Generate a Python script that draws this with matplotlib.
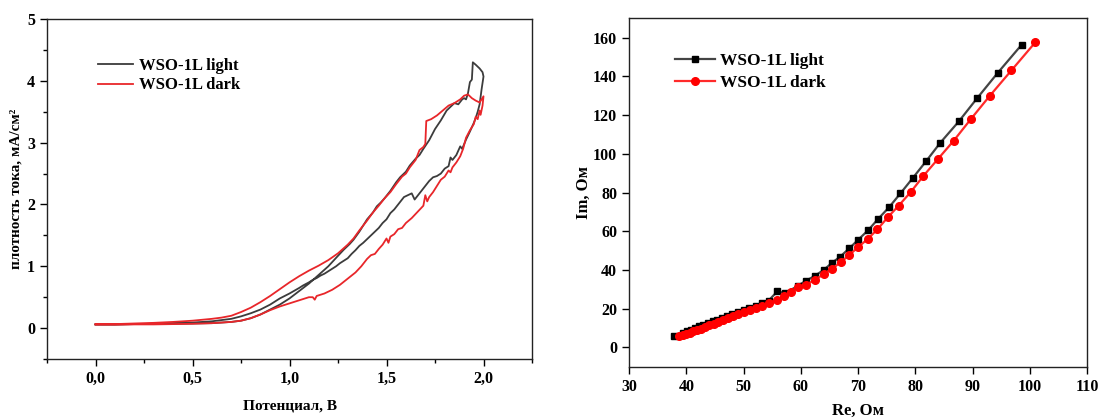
import matplotlib
matplotlib.use("Agg")
import matplotlib.pyplot as plt
from matplotlib.ticker import MultipleLocator, FuncFormatter

plt.rcParams['font.family'] = ['Liberation Serif', 'DejaVu Serif']
plt.rcParams['font.weight'] = 'bold'

# CV loops: potential (V) and current density (mA/cm2), forward then reverse sweep
light_v = [0.00, 0.10, 0.20, 0.30, 0.40, 0.50, 0.60, 0.65, 0.70, 0.75, 0.80, 0.85,
           0.90, 0.95, 1.00, 1.05, 1.10, 1.15, 1.20, 1.25, 1.28, 1.31, 1.33, 1.36,
           1.40, 1.43, 1.45, 1.47, 1.49, 1.52, 1.55, 1.57, 1.60, 1.62, 1.65, 1.67,
           1.69, 1.72, 1.75, 1.78, 1.81, 1.83, 1.85, 1.87, 1.89, 1.90, 1.91, 1.92,
           1.93, 1.94, 1.945, 1.96, 1.98, 1.995, 2.00,
           1.99, 1.98, 1.97, 1.96, 1.95, 1.93, 1.91, 1.89, 1.88, 1.86, 1.84, 1.83,
           1.82, 1.80, 1.78, 1.76, 1.74, 1.72, 1.70, 1.68, 1.66, 1.645, 1.63, 1.61,
           1.59, 1.575, 1.56, 1.54, 1.52, 1.50, 1.48, 1.46, 1.44, 1.42, 1.40, 1.38,
           1.36, 1.34, 1.32, 1.30, 1.28, 1.26, 1.24, 1.22, 1.20, 1.18, 1.16, 1.14,
           1.12, 1.10, 1.07, 1.05, 1.00, 0.95, 0.90, 0.85, 0.80, 0.75, 0.70, 0.60,
           0.50, 0.40, 0.30, 0.20, 0.10, 0.00]
light_j = [0.06, 0.06, 0.065, 0.07, 0.07, 0.075, 0.08, 0.09, 0.10, 0.12, 0.16, 0.22,
           0.30, 0.38, 0.48, 0.60, 0.72, 0.86, 1.00, 1.17, 1.27, 1.36, 1.43, 1.56,
           1.76, 1.87, 1.97, 2.03, 2.10, 2.22, 2.36, 2.44, 2.53, 2.63, 2.74, 2.80,
           2.90, 3.04, 3.22, 3.36, 3.52, 3.58, 3.64, 3.62, 3.70, 3.72, 3.70, 3.80,
           3.98, 4.02, 4.30, 4.26, 4.20, 4.14, 4.07,
           3.86, 3.62, 3.50, 3.40, 3.32, 3.18, 3.05, 2.90, 2.94, 2.80, 2.72, 2.76,
           2.62, 2.58, 2.50, 2.46, 2.44, 2.38, 2.30, 2.22, 2.14, 2.08, 2.18, 2.15,
           2.12, 2.06, 2.00, 1.92, 1.86, 1.76, 1.70, 1.62, 1.56, 1.50, 1.44, 1.38,
           1.33, 1.26, 1.20, 1.13, 1.09, 1.05, 1.00, 0.96, 0.92, 0.88, 0.85, 0.81,
           0.78, 0.74, 0.69, 0.65, 0.56, 0.48, 0.38, 0.30, 0.24, 0.19, 0.15, 0.11,
           0.09, 0.08, 0.07, 0.065, 0.06, 0.06]

dark_v = [0.00, 0.10, 0.20, 0.30, 0.40, 0.50, 0.55, 0.60, 0.65, 0.70, 0.75, 0.80,
          0.85, 0.90, 0.95, 1.00, 1.05, 1.10, 1.15, 1.20, 1.25, 1.30, 1.33, 1.36,
          1.40, 1.43, 1.46, 1.49, 1.52, 1.55, 1.58, 1.60, 1.62, 1.65, 1.67, 1.69,
          1.70, 1.705, 1.73, 1.76, 1.79, 1.82, 1.85, 1.88, 1.90, 1.92, 1.94, 1.96,
          1.98, 2.00,
          1.995, 1.985, 1.98, 1.97, 1.96, 1.95, 1.93, 1.91, 1.895, 1.88, 1.86, 1.84,
          1.83, 1.82, 1.80, 1.78, 1.76, 1.74, 1.72, 1.71, 1.70, 1.69, 1.66, 1.63,
          1.60, 1.58, 1.56, 1.54, 1.52, 1.51, 1.50, 1.48, 1.46, 1.44, 1.42, 1.40,
          1.37, 1.34, 1.30, 1.26, 1.22, 1.18, 1.14, 1.13, 1.12, 1.10, 1.05, 1.00,
          0.95, 0.90, 0.85, 0.80, 0.75, 0.70, 0.60, 0.50, 0.40, 0.30, 0.20, 0.10,
          0.00]
dark_j = [0.06, 0.065, 0.075, 0.085, 0.10, 0.12, 0.135, 0.15, 0.17, 0.20, 0.26, 0.33,
          0.42, 0.52, 0.63, 0.74, 0.84, 0.93, 1.01, 1.10, 1.21, 1.35, 1.45, 1.58,
          1.74, 1.87, 1.98, 2.10, 2.20, 2.33, 2.45, 2.50, 2.60, 2.72, 2.88, 2.93,
          2.98, 3.35, 3.38, 3.44, 3.52, 3.60, 3.64, 3.70, 3.76, 3.78, 3.72, 3.68,
          3.65, 3.75,
          3.60, 3.45, 3.52, 3.38, 3.42, 3.30, 3.20, 3.08, 2.90, 2.78, 2.68, 2.60,
          2.52, 2.55, 2.45, 2.40, 2.30, 2.20, 2.12, 2.05, 2.15, 1.98, 1.88, 1.78,
          1.70, 1.62, 1.60, 1.52, 1.48, 1.38, 1.45, 1.35, 1.28, 1.20, 1.18, 1.12,
          1.00, 0.90, 0.80, 0.70, 0.62, 0.56, 0.52, 0.46, 0.50, 0.50, 0.45, 0.40,
          0.35, 0.29, 0.22, 0.16, 0.12, 0.10, 0.08, 0.07, 0.065, 0.06, 0.06, 0.055,
          0.06]

# impedance spectra: Re and Im (Ohm)
light_re = [37.8, 39.5, 40.2, 40.9, 41.6, 42.3, 43.0, 43.8, 44.6, 45.4, 46.2, 47.1,
            48.0, 49.0, 50.0, 51.0, 52.1, 53.2, 54.4, 55.9, 57.3, 59.5, 60.9, 62.5,
            64.0, 65.4, 66.9, 68.5, 70.0, 71.8, 73.5, 75.4, 77.4, 79.6, 81.9, 84.4,
            87.6, 90.8, 94.4, 98.6]
light_im = [6.0, 7.5, 8.4, 9.2, 10.0, 10.8, 11.6, 12.5, 13.4, 14.3, 15.2, 16.2,
            17.1, 18.2, 19.3, 20.4, 21.6, 22.8, 24.2, 28.9, 28.0, 31.8, 34.4, 37.0,
            40.0, 43.5, 46.9, 51.2, 55.5, 60.6, 66.3, 72.3, 79.5, 87.6, 96.2, 105.8,
            116.7, 128.7, 141.8, 156.4]
dark_re = [38.8, 39.4, 40.0, 40.6, 41.2, 41.9, 42.6, 43.3, 44.0, 44.8, 45.6, 46.4,
           47.3, 48.2, 49.1, 50.1, 51.1, 52.2, 53.3, 54.5, 55.9, 57.1, 58.3, 59.5,
           61.0, 62.5, 64.0, 65.5, 67.0, 68.5, 70.0, 71.7, 73.4, 75.2, 77.1, 79.2,
           81.4, 83.9, 86.7, 89.7, 93.0, 96.8, 101.0]
dark_im = [5.9, 6.3, 6.9, 7.5, 8.2, 8.9, 9.7, 10.5, 11.3, 12.2, 13.1, 14.0,
           15.0, 16.0, 17.0, 18.1, 19.2, 20.4, 21.6, 22.9, 24.6, 26.6, 28.5, 31.1,
           32.4, 34.9, 37.8, 40.7, 44.0, 47.8, 51.7, 56.0, 61.0, 67.2, 73.2, 80.2,
           88.5, 97.1, 106.7, 117.9, 129.9, 143.1, 157.7]

labels = ['WSO-1L light', 'WSO-1L dark']

fig = plt.figure(figsize=(11.01, 4.2), dpi=100)
ax1 = fig.add_axes([0.0427, 0.1452, 0.4405, 0.8095])
ax2 = fig.add_axes([0.5713, 0.1269, 0.4160, 0.8295])

# left: voltammograms
ax1.plot(light_v, light_j, color='#3c3c3c', lw=1.3, label=labels[0])
ax1.plot(dark_v, dark_j, color='#e8262a', lw=1.3, label=labels[1])
ax1.set_xlim(-0.25, 2.25)
ax1.set_ylim(-0.5, 5)
ax1.xaxis.set_major_locator(MultipleLocator(0.5))
ax1.xaxis.set_minor_locator(MultipleLocator(0.25))
ax1.yaxis.set_major_locator(MultipleLocator(1))
ax1.yaxis.set_minor_locator(MultipleLocator(0.5))
ax1.xaxis.set_major_formatter(FuncFormatter(lambda x, p: f'{x:.1f}'.replace('.', ',')))
ax1.yaxis.set_major_formatter(FuncFormatter(lambda y, p: f'{y:.0f}'))
ax1.set_xticks([0, 0.5, 1.0, 1.5, 2.0])
ax1.set_yticks([0, 1, 2, 3, 4, 5])
ax1.set_xlabel('Потенциал, В', fontsize=11, fontweight='bold', labelpad=9)
ax1.set_ylabel('плотность тока, мА/см²', fontsize=11, fontweight='bold', labelpad=3)
ax1.legend(loc='upper left', bbox_to_anchor=(0.105, 0.885), frameon=False,
           prop={'size': 12, 'weight': 'bold'}, handlelength=2.1,
           handletextpad=0.35, labelspacing=0.2, borderpad=0, borderaxespad=0)

# right: Nyquist plot
ax2.plot(light_re, light_im, color='#444444', lw=1.6, marker='s', ms=5,
         mfc='black', mec='black', label=labels[0])
ax2.plot(dark_re, dark_im, color='#ff2a2a', lw=1.6, marker='o', ms=5.5,
         mfc='#ff0000', mec='#ff0000', label=labels[1])
ax2.set_xlim(30, 110)
ax2.set_ylim(-10, 170)
ax2.set_xticks(range(30, 111, 10))
ax2.set_yticks(range(0, 161, 20))
ax2.set_xlabel('Re, Ом', fontsize=12, fontweight='bold', labelpad=6)
ax2.set_ylabel('Im, Ом', fontsize=12, fontweight='bold', labelpad=1)
ax2.legend(loc='upper left', bbox_to_anchor=(0.1, 0.9), frameon=False,
           prop={'size': 12.5, 'weight': 'bold'}, handlelength=2.3,
           handletextpad=0.3, labelspacing=0.3, borderpad=0, borderaxespad=0)

for ax in (ax1, ax2):
    for s in ax.spines.values():
        s.set_linewidth(1.0)
        s.set_color('#222222')
    ax.tick_params(which='both', direction='out', top=False, right=False,
                   labelsize=11.5, width=1.0)
    ax.tick_params(which='major', length=5)
    ax.tick_params(which='minor', length=3)
    for t in ax.get_xticklabels() + ax.get_yticklabels():
        t.set_fontweight('bold')

fig.savefig('out.png', dpi=100)
